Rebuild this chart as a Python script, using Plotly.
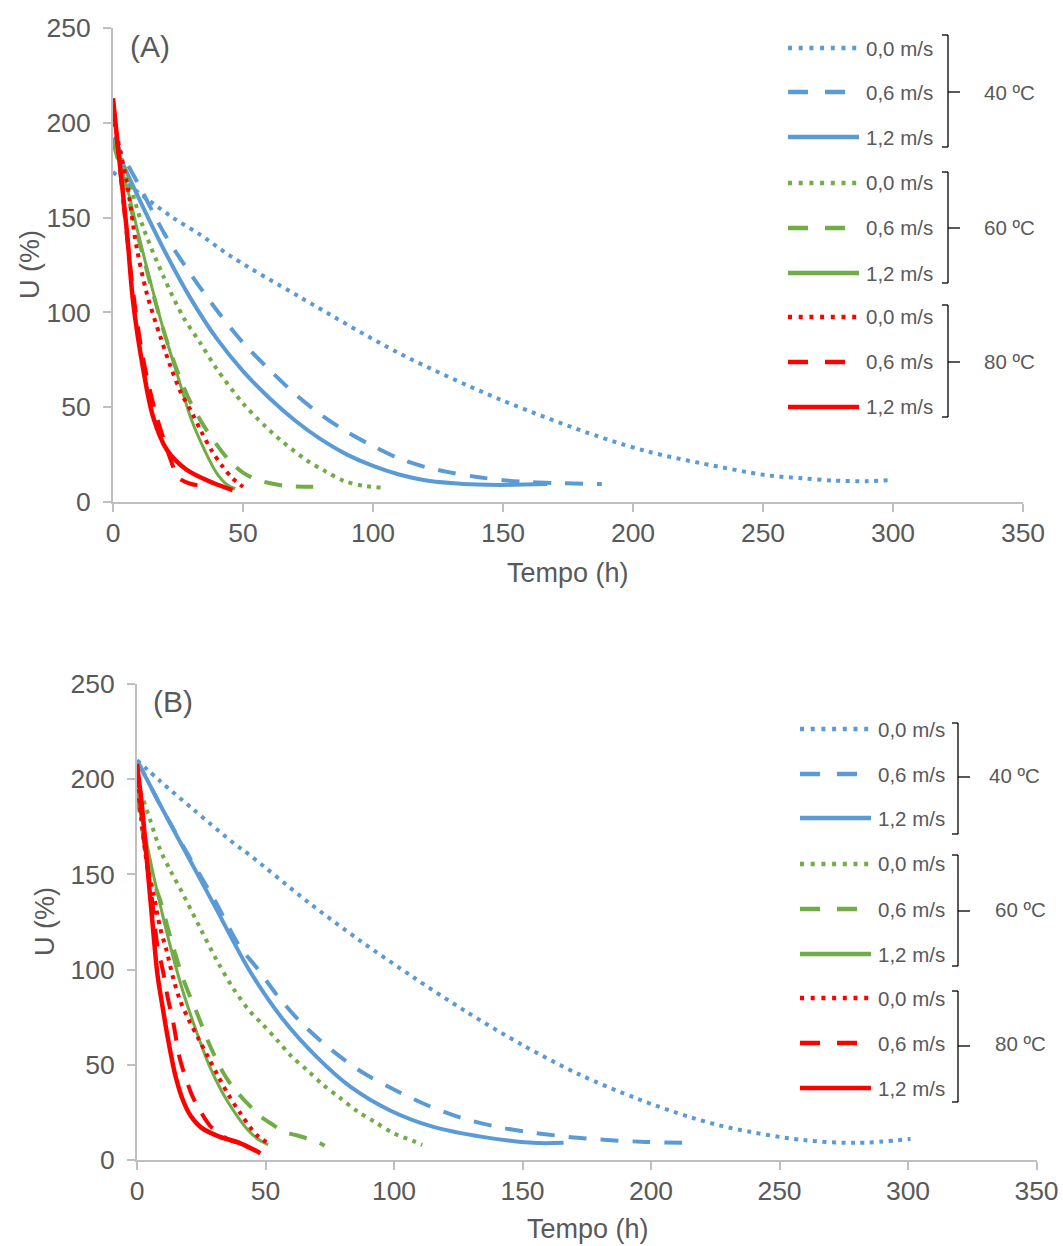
import plotly.graph_objects as go

# ---------------- DATA ----------------
# Chart (A)
a_40_00_t = [0, 10, 23, 33.5, 46, 72, 110, 149, 187, 206, 226, 251, 265, 277, 290, 300]
a_40_00_u = [174, 163, 150, 141, 129, 108, 78.5, 54, 34.4, 26.5, 20.5, 14.2, 12.5, 11.3, 11, 11.6]
a_40_06_t = [0, 10, 20, 30, 40, 50, 60, 70, 80, 90, 100, 110, 120, 130, 140, 150, 160, 170, 188]
a_40_06_u = [192, 167, 141, 120, 101, 84, 70, 57, 46, 37, 29.5, 23, 18.5, 15.5, 13.2, 11.5, 10.5, 10, 9.5]
a_40_12_t = [0, 10, 20, 30, 40, 50, 60, 70, 80, 90, 100, 110, 120, 130, 140, 150, 167]
a_40_12_u = [190, 160, 132, 107, 86, 69, 55, 43, 33, 25, 19, 14.5, 11.5, 10, 9.2, 9, 9.5]
a_60_00_t = [0, 3, 11.7, 19.4, 27, 33.5, 40, 50, 58.5, 65, 74.5, 81.5, 89, 97, 105]
a_60_00_u = [190, 182, 144.5, 119, 97.6, 84, 70, 52, 40, 32, 22, 16.3, 11, 8.4, 7.4]
a_60_06_t = [0, 5, 10, 15, 20, 25, 30, 35, 40, 45, 50, 55, 60, 67, 77]
a_60_06_u = [190, 165, 138, 112, 88, 68, 52, 40, 30, 21.5, 15.5, 12, 10, 8.4, 8]
a_60_12_t = [0, 5, 10, 15, 20, 25, 30, 35, 40, 44, 47]
a_60_12_u = [190, 168, 140, 113, 88, 66, 44, 28, 15, 9, 7]
a_80_00_t = [0, 2, 5.4, 9, 13, 18, 22, 26, 30, 34, 38, 42, 46, 50]
a_80_00_u = [205, 190, 168, 135, 110, 88, 72, 58, 48, 37, 27, 19, 12.5, 8]
a_80_06_t = [0, 2, 5, 8, 11, 14, 17, 20, 22.5, 25, 30, 37]
a_80_06_u = [210, 185, 145, 108, 80, 60, 44, 31, 21, 13, 9.5, 8.5]
a_80_12_t = [0, 2, 5.4, 7.7, 11.5, 15.4, 20.7, 28.3, 38.6, 46]
a_80_12_u = [213, 186, 142, 106, 71, 45, 27.5, 17, 10, 6.3]

# Chart (B)
b_40_00_t = [0, 9, 22, 37.5, 44, 67, 87, 107.5, 128, 150, 172, 195, 215, 231, 259, 280, 301]
b_40_00_u = [210, 199, 184, 166.5, 160, 135, 115, 96, 78, 60.4, 45, 32, 22.6, 16.8, 10.5, 9, 11]
b_40_06_t = [0, 10, 20, 30, 40, 46.6, 55, 64.7, 75.7, 87.5, 99.6, 112.7, 126.5, 140.5, 155, 169, 183, 198, 216]
b_40_06_u = [210, 184, 160, 137, 112, 101, 85.7, 71, 57.8, 46.2, 37.3, 28.9, 22, 17.3, 14.2, 12, 10.5, 9.5, 9]
b_40_12_t = [0, 10, 20, 30, 44, 57, 70, 83, 98.5, 115, 135, 154, 166]
b_40_12_u = [210, 184, 159, 134, 99, 73.5, 54, 38.5, 26, 17.5, 12, 9, 9]
b_60_00_t = [0, 1.2, 5, 9, 13, 17, 24.5, 31, 37.5, 44, 49, 54.5, 60, 66.6, 72.5, 79, 85.5, 92.6, 99.6, 107.4, 111]
b_60_00_u = [198, 194, 179, 163, 152, 142, 122, 105, 90, 78, 71, 63, 54.6, 46.7, 39.4, 32.6, 25.8, 19.9, 14.2, 10, 7.9]
b_60_06_t = [0, 2.5, 5, 9, 13, 18, 23.4, 28.4, 33.5, 38, 42.8, 48, 53, 56.8, 62, 66, 71, 73]
b_60_06_u = [192, 170, 152, 136.5, 117, 95, 77, 60, 46, 37, 30, 23, 18.4, 15, 13, 11.4, 9, 7.5]
b_60_12_t = [0, 3, 8, 13, 18, 23, 28, 33, 38, 43, 47, 51]
b_60_12_u = [195, 172, 140, 112, 88, 68, 50, 36, 25, 16, 11, 8]
b_80_00_t = [0, 2, 3.8, 6.4, 9, 11.5, 14, 16.7, 20, 23.8, 27.7, 31.6, 35.4, 40, 44.8, 47.5, 51]
b_80_00_u = [200, 175, 156, 140, 122, 110, 96, 84, 74, 64, 54, 44, 34.6, 25, 15.8, 12, 8.9]
b_80_06_t = [0, 3, 6, 8, 10, 12, 14, 16.7, 19, 21.4, 24.5, 28.4, 31, 34, 38, 41]
b_80_06_u = [205, 165, 135, 112, 100, 85, 73, 53, 43, 34, 26, 18, 15, 12, 9.5, 9]
b_80_12_t = [0, 2, 4, 6, 8, 10, 12, 15, 18, 21, 25, 32, 40, 48]
b_80_12_u = [208, 185, 155, 125, 97, 80, 64, 44, 31, 23, 17, 12.3, 8.9, 3.6]

speeds = ["0,0 m/s", "0,6 m/s", "1,2 m/s"]
temps = ["40 ºC", "60 ºC", "80 ºC"]
x_ticks = [0, 50, 100, 150, 200, 250, 300, 350]
y_ticks = [0, 50, 100, 150, 200, 250]
panel_labels = ["(A)", "(B)"]
x_title = "Tempo (h)"
y_title = "U (%)"

# ---------------- STYLE ----------------
BLUE, GREEN, RED = "#5B9BD5", "#70AD47", "#FF0000"
colors = [BLUE, GREEN, RED]
DOT = "4px,5.5px"
DASH = "18px,14px"
dashes = [DOT, DASH, "solid"]
widths = {BLUE: [4, 4, 4], GREEN: [4, 4, 3], RED: [4, 4, 4.5]}
TXT = "#595959"
AX = "#BFBFBF"
FONT = "Liberation Sans, Arial, sans-serif"
# body margin is removed by the post script, so the figure fills the window
W, H = 1063, 1246

def px(x):
    return x / W

def py(y):
    return 1 - y / H

series_a = [
    [(a_40_00_t, a_40_00_u), (a_40_06_t, a_40_06_u), (a_40_12_t, a_40_12_u)],
    [(a_60_00_t, a_60_00_u), (a_60_06_t, a_60_06_u), (a_60_12_t, a_60_12_u)],
    [(a_80_00_t, a_80_00_u), (a_80_06_t, a_80_06_u), (a_80_12_t, a_80_12_u)],
]
series_b = [
    [(b_40_00_t, b_40_00_u), (b_40_06_t, b_40_06_u), (b_40_12_t, b_40_12_u)],
    [(b_60_00_t, b_60_00_u), (b_60_06_t, b_60_06_u), (b_60_12_t, b_60_12_u)],
    [(b_80_00_t, b_80_00_u), (b_80_06_t, b_80_06_u), (b_80_12_t, b_80_12_u)],
]

fig = go.Figure()
for series, xa, ya in [(series_a, "x", "y"), (series_b, "x2", "y2")]:
    for gi, grp in enumerate(series):
        for si, (t, u) in enumerate(grp):
            c = colors[gi]
            fig.add_trace(go.Scatter(
                x=t, y=u, mode="lines", xaxis=xa, yaxis=ya,
                line=dict(color=c, width=widths[c][si], dash=dashes[si], shape="spline", smoothing=0.9),
                name=f"{temps[gi]} {speeds[si]}", showlegend=False, hoverinfo="skip"))

# panel geometry in screenshot pixels: (x0, x1, ytop, ybottom)
geoA = (113, 1023, 28, 502)
geoB = (137, 1036.5, 684, 1160)

axis_common = dict(showline=True, linecolor=AX, linewidth=2, ticks="outside", ticklen=8,
                   tickcolor=AX, tickwidth=2, showgrid=False, zeroline=False, automargin=False,
                   ticklabeloverflow="allow",
                   tickfont=dict(family=FONT, size=26.5, color=TXT))
fig.update_layout(
    width=W, height=H, margin=dict(l=0, r=0, t=0, b=0, autoexpand=False),
    paper_bgcolor="white", plot_bgcolor="white", showlegend=False,
    xaxis=dict(domain=[px(geoA[0]), px(geoA[1])], range=[0, 350], tickvals=x_ticks,
               anchor="y", ticklabelstandoff=-2, **axis_common),
    yaxis=dict(domain=[py(geoA[3]), py(geoA[2])], range=[0, 250], tickvals=y_ticks,
               anchor="x", ticklabelstandoff=7, **axis_common),
    xaxis2=dict(domain=[px(geoB[0]), px(geoB[1])], range=[0, 350], tickvals=x_ticks,
                anchor="y2", ticklabelstandoff=-2, **axis_common),
    yaxis2=dict(domain=[py(geoB[3]), py(geoB[2])], range=[0, 250], tickvals=y_ticks,
                anchor="x2", ticklabelstandoff=7, **axis_common),
)

annotations = []
shapes = []

def text(x, y, s, size, xanchor="left", angle=0, color=TXT):
    annotations.append(dict(x=px(x), y=py(y), xref="paper", yref="paper", text=s,
                            showarrow=False, xanchor=xanchor, yanchor="middle",
                            textangle=angle, font=dict(family=FONT, size=size, color=color)))

def seg(x0, y0, x1, y1, color, width, dash="solid"):
    shapes.append(dict(type="line", xref="paper", yref="paper",
                       x0=px(x0), y0=py(y0), x1=px(x1), y1=py(y1),
                       line=dict(color=color, width=width, dash=dash)))

# panel labels and axis titles
text(128, 47, panel_labels[0], 30)
text(151, 701, panel_labels[1], 30)
text(30, 265, y_title, 27, xanchor="center", angle=-90)
text(45, 922, y_title, 27, xanchor="center", angle=-90)
text(568, 573, x_title, 27, xanchor="center")
text(588, 1229, x_title, 27, xanchor="center")

LEG_DOT = "4px,6.7px"
LEG_DASH = "20px,17px"
leg_dashes = [LEG_DOT, LEG_DASH, "solid"]

def legend(xs0, xs1, xl, rows, brx, brackets, mids, tickx, labx, laby):
    k = 0
    for gi in range(3):
        for si in range(3):
            y = rows[k]
            seg(xs0, y, xs1, y, colors[gi], 4.5, leg_dashes[si])
            text(xl, y, speeds[si], 20.5)
            k += 1
        top, bot = brackets[gi]
        seg(brx, top, brx, bot, "#000000", 1.3)
        seg(brx - 6, top, brx, top, "#000000", 1.3)
        seg(brx - 6, bot, brx, bot, "#000000", 1.3)
        seg(brx, mids[gi], tickx, mids[gi], "#000000", 1.3)
        text(labx[gi], laby[gi], temps[gi], 20.5)

legend(788, 859, 864, [48, 92, 137, 183, 228, 273, 317, 362, 407], 948,
       [(35, 147), (172, 283), (305, 417)], [92, 228, 362], 960,
       [982, 982, 982], [92, 228, 362])
legend(800, 871, 876, [729, 774, 818, 864, 909, 954, 998, 1043, 1088], 958,
       [(723, 834), (855, 966), (991, 1102)], [777, 911, 1046], 970,
       [987, 993, 993], [775, 909, 1043])

fig.update_layout(annotations=annotations, shapes=shapes)
fig.write_html("out.html", config={"displayModeBar": False, "staticPlot": True},
               post_script="document.body.style.margin='0';document.body.style.overflow='hidden';")
